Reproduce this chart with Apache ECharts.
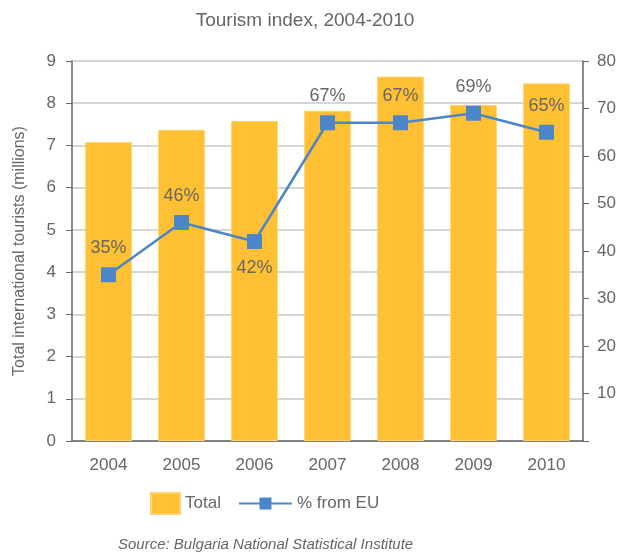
<!DOCTYPE html>
<html>
<head>
<meta charset="utf-8">
<script src="https://cdn.jsdelivr.net/npm/echarts@6/dist/echarts.min.js"></script>
<style>
  html, body { margin: 0; padding: 0; background: #fff; }
  #chart { width: 630px; height: 555px; }
</style>
</head>
<body>
<div id="chart"></div>
<script>
var years = ['2004', '2005', '2006', '2007', '2008', '2009', '2010'];
var totalTourists = [7.08, 7.37, 7.58, 7.82, 8.63, 7.96, 8.47];
var pctFromEU = [35, 46, 42, 67, 67, 69, 65];
var pctLabelPos = ['top', 'top', 'bottom', 'top', 'top', 'top', 'top'];

var FONT = '"Liberation Sans", Arial, sans-serif';
var TXT = '#666';

var chart = echarts.init(document.getElementById('chart'));

option = {
    textStyle: { fontFamily: FONT },
    title: {
        text: 'Tourism index, 2004-2010',
        left: 300,
        textAlign: 'center',
        top: 6,
        textStyle: { fontFamily: FONT, fontSize: 19, fontWeight: 'normal', color: TXT }
    },
    legend: [
        {
            data: [{ name: 'Total', icon: 'rect' }],
            left: 150,
            top: 492,
            padding: 0,
            itemWidth: 29,
            itemHeight: 21,
            itemGap: 8,
            textStyle: { fontFamily: FONT, fontSize: 17, color: TXT }
        },
        {
            data: ['% from EU'],
            left: 238,
            top: 495,
            padding: 0,
            itemWidth: 53,
            itemHeight: 15,
            itemGap: 8,
            textStyle: { fontFamily: FONT, fontSize: 17, color: TXT }
        }
    ],
    grid: {
        left: 72,
        right: 47,
        top: 61,
        bottom: 114
    },
    xAxis: {
        type: 'category',
        data: years,
        axisLine: { lineStyle: { color: '#666', width: 1.5 } },
        axisTick: { alignWithLabel: true, length: 6, lineStyle: { color: '#666' } },
        axisLabel: { fontFamily: FONT, fontSize: 17, color: TXT, margin: 16 }
    },
    yAxis: [
        {
            type: 'value',
            min: 0,
            max: 9,
            interval: 1,
            name: 'Total international tourists (millions)',
            nameLocation: 'middle',
            nameGap: 44,
            nameTextStyle: { fontFamily: FONT, fontSize: 16, color: TXT },
            axisLine: { show: true, lineStyle: { color: '#666', width: 1.5 } },
            axisTick: { show: true, length: 6, lineStyle: { color: '#666' } },
            axisLabel: { fontFamily: FONT, fontSize: 17, color: TXT, margin: 16 },
            splitLine: { lineStyle: { color: '#c8c8c8', width: 1.5 } }
        },
        {
            type: 'value',
            min: 0,
            max: 80,
            interval: 10,
            position: 'right',
            axisLine: { show: true, lineStyle: { color: '#666', width: 1.5 } },
            axisTick: { show: true, length: 6, lineStyle: { color: '#666' } },
            axisLabel: {
                fontFamily: FONT, fontSize: 17, color: TXT, margin: 14,
                formatter: function (v) { return v === 0 ? '' : v; }
            },
            splitLine: { show: false }
        }
    ],
    series: [
        {
            name: 'Total',
            type: 'bar',
            data: totalTourists,
            barCategoryGap: '36%',
            itemStyle: { color: '#FFC133', borderColor: '#FFD36B', borderWidth: 1 }
        },
        {
            name: '% from EU',
            type: 'line',
            yAxisIndex: 1,
            data: pctFromEU.map(function (v, i) {
                return { value: v, label: { position: pctLabelPos[i] } };
            }),
            symbol: 'rect',
            symbolSize: 15,
            lineStyle: { color: '#4A86C8', width: 2.5 },
            itemStyle: { color: '#4A86C8' },
            label: {
                show: true,
                formatter: '{c}%',
                distance: 10,
                fontFamily: FONT,
                fontSize: 18,
                color: TXT
            }
        }
    ],
    graphic: [
        {
            type: 'text',
            left: 118,
            top: 537,
            style: {
                text: 'Source: Bulgaria National Statistical Institute',
                fontFamily: FONT,
                fontSize: 15,
                fontStyle: 'italic',
                fill: TXT
            }
        }
    ]
};
chart.setOption(option);
</script>
</body>
</html>
